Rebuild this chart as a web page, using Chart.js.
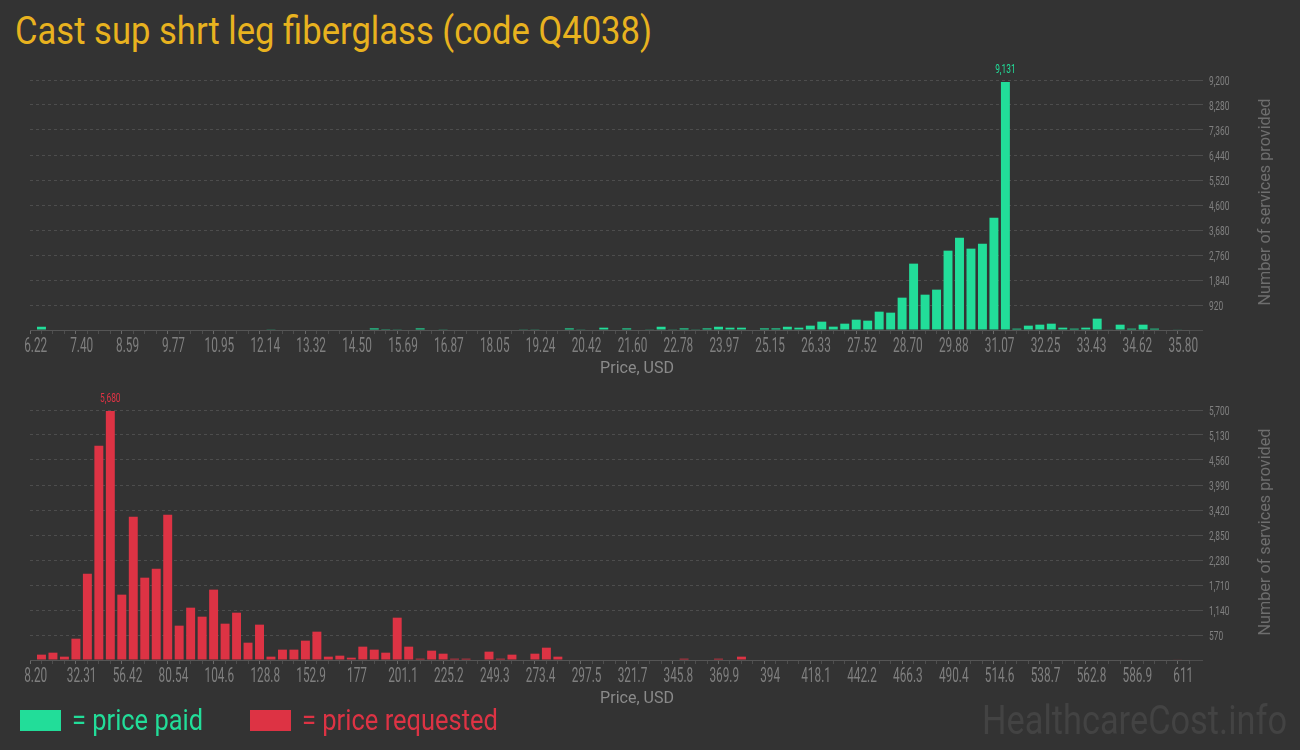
<!DOCTYPE html>
<html>
<head>
<meta charset="utf-8">
<script src="https://cdn.jsdelivr.net/npm/chart.js@4.4.0/dist/chart.umd.min.js"></script>
<style>
  body { margin: 0; background: #333333; width: 1300px; height: 750px; overflow: hidden; position: relative; font-family: Roboto, sans-serif; }
  .txt { position: absolute; white-space: nowrap; display: inline-block; transform-origin: 0 0; }
  #title { left: 15px; top: 12px; font-size: 38px; line-height: 38px; color: #e8b21f; }
  .box { position: absolute; left: 0; width: 1300px; height: 320px; }
  #topBox { top: 60px; }
  #bottomBox { top: 390px; }
  .sw { position: absolute; top: 710px; width: 41px; height: 21px; }
  .lg { top: 706px; font-size: 29px; line-height: 29px; }
  #mark { left: 982px; top: 700px; font-size: 41px; line-height: 41px; color: #434343; }
</style>
</head>
<body>
<div id="title" class="txt" data-w="637">Cast sup shrt leg fiberglass (code Q4038)</div>
<div class="box" id="topBox"><canvas id="paidChart"></canvas></div>
<div class="box" id="bottomBox"><canvas id="reqChart"></canvas></div>
<div class="sw" style="left:20px;background:#22dd99"></div>
<div class="txt lg" data-w="131" style="left:72px;color:#22dd99">= price paid</div>
<div class="sw" style="left:250px;background:#dd3344"></div>
<div class="txt lg" data-w="196" style="left:302px;color:#dd3344">= price requested</div>
<div id="mark" class="txt" data-w="305">HealthcareCost.info</div>
<script>
// price paid: bin edges, a label every 4 bins
const paidTicks = ["6.22","7.40","8.59","9.77","10.95","12.14","13.32","14.50","15.69","16.87","18.05","19.24","20.42",
  "21.60","22.78","23.97","25.15","26.33","27.52","28.70","29.88","31.07","32.25","33.43","34.62","35.80"];
const paidCounts = [
  120,0,0,0,0,0,0,0,0,0,
  0,0,0,0,0,0,0,0,0,0,
  25,0,0,0,0,0,0,0,0,60,
  30,25,0,60,0,25,0,0,0,0,
  0,0,25,25,0,0,60,25,0,85,
  0,60,0,25,120,25,60,25,60,120,
  85,85,0,60,60,120,85,160,307,123,
  233,380,344,675,638,1190,2442,1300,1485,2920,
  3399,2994,3178,4135,9131,50,160,196,233,86,
  50,86,417,15,196,50,196,50,0,15];

// price requested
const reqTicks = ["8.20","32.31","56.42","80.54","104.6","128.8","152.9","177","201.1","225.2","249.3","273.4","297.5",
  "321.7","345.8","369.9","394","418.1","442.2","466.3","490.4","514.6","538.7","562.8","586.9","611"];
const reqCounts = [
  122,167,76,486,1968,4887,5680,1490,3268,1877,
  2082,3314,783,1193,988,1604,828,1079,395,806,
  76,236,236,441,646,76,99,53,304,236,
  167,965,304,30,213,144,30,30,0,190,
  30,122,0,144,281,76,0,0,0,0,
  0,0,0,0,0,0,30,0,0,30,
  0,76,0,0,0,0,0,0,0,0,
  0,0,0,0,0,0,0,0,0,0,
  0,0,0,0,0,0,0,0,0,0,
  0,0,0,0,0,0,0,0,0,10];

// squeeze html text to the reference widths (condensed look)
document.querySelectorAll('.txt').forEach(el => {
  const w = el.getBoundingClientRect().width;
  el.style.transform = 'scaleX(' + (el.dataset.w / w) + ')';
});

function squeeze(ctx, text, x, y, size, sx, color, align) {
  ctx.save();
  ctx.font = size + 'px Roboto';
  ctx.fillStyle = color;
  ctx.textAlign = align;
  ctx.textBaseline = 'alphabetic';
  ctx.translate(x, y);
  ctx.scale(sx, 1);
  ctx.fillText(text, 0, 0);
  ctx.restore();
}

const labels = {
  id: 'labels',
  afterDraw(chart, args, opts) {
    const ctx = chart.ctx;
    const xs = chart.scales.x, ys = chart.scales.y;
    // x tick labels
    opts.ticks.forEach((t, k) => {
      squeeze(ctx, t, xs.getPixelForValue(k * 4), xs.top + 22, 20, 0.59, '#7f7f7f', 'center');
    });
    // y tick labels
    ys.ticks.forEach(t => {
      if (t.value === 0) return;
      squeeze(ctx, t.value.toLocaleString('en-US'), chart.chartArea.right + 20, ys.getPixelForValue(t.value) + 4.5, 12.5, 0.67, '#808080', 'left');
    });
    // x title
    ctx.save();
    ctx.font = '16px Roboto';
    ctx.fillStyle = '#8a8a8a';
    ctx.textAlign = 'center';
    ctx.fillText('Price, USD', 637, xs.top + 43);
    ctx.restore();
    // y title, reading upwards
    const a = chart.chartArea;
    ctx.save();
    ctx.font = '17px Roboto';
    const w = ctx.measureText('Number of services provided').width;
    ctx.translate(1270, (a.top + a.bottom) / 2 - 3);
    ctx.rotate(-Math.PI / 2);
    ctx.scale(207 / w, 1);
    ctx.fillStyle = '#6e6e6e';
    ctx.textAlign = 'center';
    ctx.fillText('Number of services provided', 0, 0);
    ctx.restore();
    // value on the tallest bar
    const data = chart.data.datasets[0].data;
    let k = 0;
    data.forEach((d, i) => { if (d.y > data[k].y) k = i; });
    const bar = chart.getDatasetMeta(0).data[k];
    squeeze(ctx, data[k].y.toLocaleString('en-US'), bar.x, bar.y - 9, 12.5, 0.67, opts.color, 'center');
  }
};

function makeChart(id, counts, tickLabels, color, yMax) {
  const points = counts.map((c, i) => ({ x: i + 0.5, y: c }));
  const nBins = (tickLabels.length - 1) * 4;
  new Chart(document.getElementById(id), {
    type: 'bar',
    data: { datasets: [{ data: points, backgroundColor: color, categoryPercentage: 1, barPercentage: 0.78 }] },
    options: {
      responsive: true,
      maintainAspectRatio: false,
      animation: false,
      layout: { padding: { left: 30, right: 0, top: 20, bottom: 0 } },
      plugins: { legend: { display: false }, tooltip: { enabled: false }, labels: { color, ticks: tickLabels } },
      scales: {
        x: {
          type: 'linear',
          min: 0,
          max: nBins,
          afterBuildTicks(scale) {
            const t = [];
            for (let i = 0; i <= nBins; i++) t.push({ value: i });
            scale.ticks = t;
          },
          afterFit(scale) { scale.height = 50; },
          ticks: { display: false, autoSkip: false },
          grid: {
            drawOnChartArea: false, drawTicks: true, tickLength: 4,
            tickColor: (c) => (c.index % 4 === 0 ? '#6a6a6a' : '#4e4e4e')
          },
          border: { display: true, color: '#555', width: 1 }
        },
        y: {
          position: 'right',
          min: 0,
          max: yMax,
          afterFit(scale) { scale.width = 111; },
          ticks: { display: false, stepSize: yMax / 10 },
          grid: { color: '#4d4d4d', tickLength: 14, drawTicks: true },
          border: { display: false, dash: [3, 3] }
        }
      }
    },
    plugins: [labels]
  });
}

makeChart('paidChart', paidCounts, paidTicks, '#22dd99', 9200);
makeChart('reqChart', reqCounts, reqTicks, '#dd3344', 5700);
</script>
</body>
</html>
